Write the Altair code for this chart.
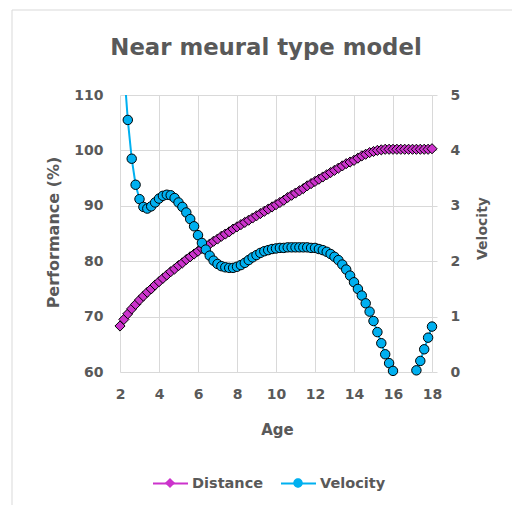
import altair as alt
import pandas as pd

# ---- data ----
ages = [2.0, 2.2, 2.4, 2.6, 2.8, 3.0, 3.2, 3.4, 3.6, 3.8,
        4.0, 4.2, 4.4, 4.6, 4.8, 5.0, 5.2, 5.4, 5.6, 5.8,
        6.0, 6.2, 6.4, 6.6, 6.8, 7.0, 7.2, 7.4, 7.6, 7.8,
        8.0, 8.2, 8.4, 8.6, 8.8, 9.0, 9.2, 9.4, 9.6, 9.8,
        10.0, 10.2, 10.4, 10.6, 10.8, 11.0, 11.2, 11.4, 11.6, 11.8,
        12.0, 12.2, 12.4, 12.6, 12.8, 13.0, 13.2, 13.4, 13.6, 13.8,
        14.0, 14.2, 14.4, 14.6, 14.8, 15.0, 15.2, 15.4, 15.6, 15.8,
        16.0, 16.2, 16.4, 16.6, 16.8, 17.0, 17.2, 17.4, 17.6, 17.8,
        18.0]

distance = [68.3, 69.5, 70.5, 71.4, 72.2, 73.0, 73.7, 74.4, 75.0, 75.7,
            76.3, 76.9, 77.5, 78.1, 78.6, 79.2, 79.7, 80.3, 80.8, 81.3,
            81.8, 82.3, 82.7, 83.1, 83.6, 84.0, 84.5, 84.9, 85.3, 85.8,
            86.2, 86.6, 87.0, 87.4, 87.8, 88.2, 88.6, 89.0, 89.4, 89.8,
            90.2, 90.6, 91.0, 91.5, 91.9, 92.3, 92.7, 93.1, 93.6, 94.0,
            94.4, 94.8, 95.2, 95.6, 96.0, 96.4, 96.8, 97.2, 97.6, 97.9,
            98.2, 98.6, 99.0, 99.3, 99.6, 99.8, 100.0, 100.1, 100.2, 100.2,
            100.2, 100.2, 100.2, 100.2, 100.2, 100.2, 100.2, 100.2, 100.2, 100.2,
            100.3]

velocity = [7.0, 5.5, 4.55, 3.85, 3.38, 3.12, 2.98, 2.95, 2.99, 3.06,
            3.13, 3.18, 3.20, 3.19, 3.14, 3.06, 2.98, 2.88, 2.76, 2.63,
            2.47, 2.33, 2.21, 2.10, 2.01, 1.95, 1.91, 1.89, 1.88, 1.88,
            1.90, 1.93, 1.97, 2.02, 2.07, 2.11, 2.15, 2.18, 2.20, 2.22,
            2.23, 2.24, 2.24, 2.25, 2.25, 2.25, 2.25, 2.25, 2.25, 2.24,
            2.24, 2.22, 2.20, 2.17, 2.13, 2.08, 2.02, 1.94, 1.85, 1.74,
            1.62, 1.50, 1.38, 1.24, 1.09, 0.92, 0.72, 0.52, 0.32, 0.16,
            0.02, -0.12, -0.22, -0.27, -0.25, -0.15, 0.03, 0.20, 0.41, 0.62,
            0.82]

series_names = ["Distance", "Velocity"]
series_colors = ["#CC33CC", "#00B0F0"]
x_ticks = [2, 4, 6, 8, 10, 12, 14, 16, 18]
left_ticks = [60, 70, 80, 90, 100, 110]
right_ticks = [0, 1, 2, 3, 4, 5]

df_d = pd.DataFrame({"Age": ages, "Value": distance})
df_d["Series"] = series_names[0]
df_d["SeriesL"] = series_names[0]
df_v = pd.DataFrame({"Age": ages, "Value": velocity})
df_v["Series"] = series_names[1]
df_v["SeriesL"] = series_names[1]

FONT = "DejaVu Sans"
GRAY = "#595959"
GRID = "#D9D9D9"

diamond = "M0,-0.29L0.29,0L0,0.29L-0.29,0Z"
circle = "M0.27,0A0.27,0.27,0,1,1,-0.27,0A0.27,0.27,0,1,1,0.27,0Z"

LEG_Y = 370


def leg(x, **kw):
    return alt.Legend(orient="none", legendX=x, legendY=LEG_Y, direction="horizontal",
                      title=None, symbolSize=1225, labelFont=FONT, labelFontSize=14.5,
                      labelFontWeight="bold", labelColor=GRAY, labelOffset=3,
                      padding=0, **kw)


def line_legend(x):
    return leg(x, symbolType="stroke", symbolStrokeWidth=2, zindex=0)


def marker_legend(x):
    return leg(x, symbolStrokeColor="black", symbolStrokeWidth=1,
               labelExpr="''", zindex=1)


x_enc = alt.X("Age:Q",
              scale=alt.Scale(domain=[2, 18], nice=False, zero=False),
              axis=alt.Axis(values=x_ticks, title="Age", grid=True, ticks=False,
                            labelPadding=15, titleX=157, titleY=62,
                            titleBaseline="alphabetic", titleAlign="center",
                            titleFontSize=15))

y_left = alt.Y("Value:Q",
               scale=alt.Scale(domain=[60, 110], nice=False, zero=False),
               axis=alt.Axis(orient="left", values=left_ticks, title="Performance (%)",
                             grid=True, ticks=False, labelPadding=17,
                             titleAngle=270, titleX=-62, titleY=137,
                             titleAlign="center", titleBaseline="alphabetic",
                             titleFontSize=16))

y_right = alt.Y("Value:Q",
                scale=alt.Scale(domain=[0, 5], nice=False, zero=False),
                axis=alt.Axis(orient="right", values=right_ticks, title="Velocity",
                              grid=False, ticks=True, tickSize=5, tickColor=GRID,
                              labelPadding=13, titleAngle=270, titleX=54, titleY=133,
                              titleAlign="center", titleBaseline="alphabetic",
                              titleFontSize=14))

# Distance series (left axis)
d_line = alt.Chart(df_d).mark_line(strokeWidth=2).encode(
    x=x_enc, y=y_left,
    color=alt.Color("SeriesL:N", scale=alt.Scale(range=[series_colors[0]]),
                    legend=line_legend(32)))
d_pts = alt.Chart(df_d).mark_point(filled=True, stroke="black", strokeWidth=1,
                                   size=1225, opacity=1).encode(
    x=x_enc, y=y_left,
    shape=alt.Shape("Series:N", scale=alt.Scale(range=[diamond]), legend=marker_legend(32)),
    fill=alt.Fill("Series:N", scale=alt.Scale(range=[series_colors[0]]), legend=marker_legend(32)))

# Velocity series (right axis)
v_line = alt.Chart(df_v).mark_line(strokeWidth=2, clip=True).encode(
    x=x_enc, y=y_right,
    color=alt.Color("SeriesL:N", scale=alt.Scale(range=[series_colors[1]]),
                    legend=line_legend(160)))
v_pts = alt.Chart(df_v).transform_filter(
    (alt.datum.Value >= 0) & (alt.datum.Value <= 5)
).mark_point(filled=True, stroke="black", strokeWidth=1, size=1225, opacity=1).encode(
    x=x_enc, y=y_right,
    shape=alt.Shape("Series:N", scale=alt.Scale(range=[circle]), legend=marker_legend(160)),
    fill=alt.Fill("Series:N", scale=alt.Scale(range=[series_colors[1]]), legend=marker_legend(160)))

# outer chart frame (decoration)
frame = alt.Chart(pd.DataFrame({"f": [0]})).mark_rule(color=GRID, strokeWidth=1)
frame_top = frame.encode(x=alt.value(-108), x2=alt.value(420), y=alt.value(-85))
frame_left = frame.encode(x=alt.value(-108), y=alt.value(-85), y2=alt.value(430))

left_group = alt.layer(d_line, d_pts)
right_group = alt.layer(v_line, v_pts)

chart = alt.layer(
    frame_top, frame_left, left_group, right_group
).resolve_scale(
    y="independent", color="independent", shape="independent", fill="independent"
).properties(
    width=312, height=277,
    padding={"left": 120, "top": 95, "right": 80, "bottom": 133},
    autosize=alt.AutoSizeParams(type="none"),
    title=alt.TitleParams("Near meural type model", font=FONT, fontSize=22.8,
                          fontWeight="bold", color=GRAY, anchor="middle",
                          frame="group", dx=-10, offset=0, dy=68,
                          baseline="alphabetic"),
    background="white",
).configure_view(
    strokeWidth=0
).configure_axis(
    labelFont=FONT, labelFontSize=14, labelFontWeight="bold", labelColor=GRAY,
    titleFont=FONT, titleFontWeight="bold", titleColor=GRAY,
    gridColor=GRID, gridWidth=1, domain=False, labelFlush=False
)

chart.save("out.html", embed_options={"renderer": "svg", "actions": False})
